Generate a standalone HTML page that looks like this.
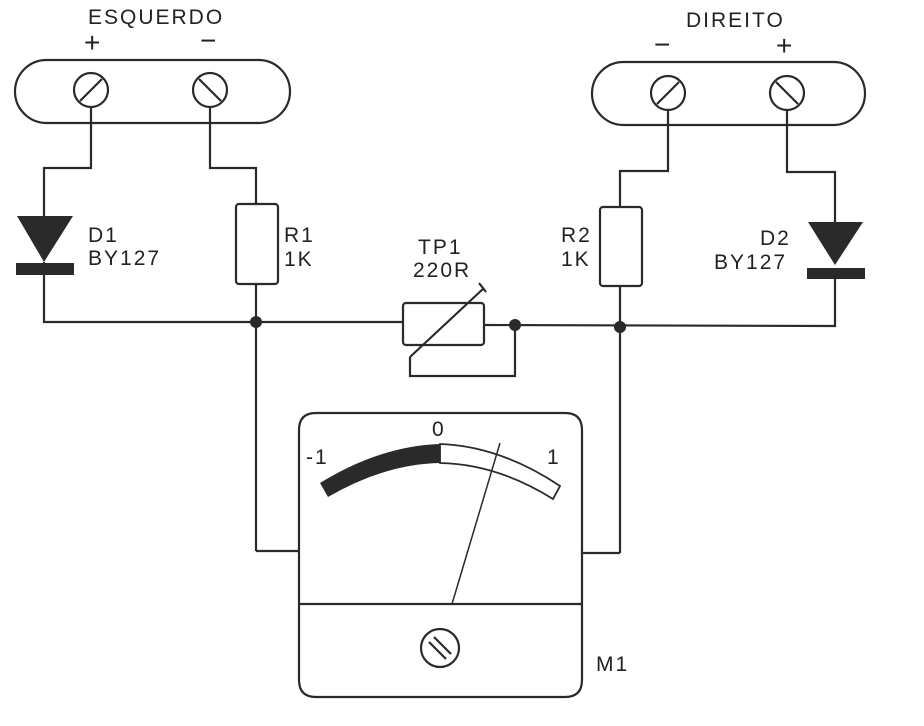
<!DOCTYPE html>
<html><head><style>
html,body{margin:0;padding:0;background:#fff;}
svg{display:block;}
text{font-family:"Liberation Sans",sans-serif;fill:#222;}
</style></head><body>
<svg width="924" height="726" viewBox="0 0 924 726" xmlns="http://www.w3.org/2000/svg">
<g stroke="#2a2a2a" stroke-width="2.2" fill="none">
<rect x="15" y="60" width="275" height="63" rx="31.5"/>
<circle cx="91" cy="90" r="17"/><line x1="80" y1="101" x2="102" y2="79"/>
<circle cx="210" cy="90" r="17"/><line x1="199" y1="79" x2="221" y2="101"/>
<rect x="592" y="62" width="273" height="63" rx="31.5"/>
<circle cx="668" cy="93" r="17"/><line x1="657" y1="104" x2="679" y2="82"/>
<circle cx="787" cy="93" r="17"/><line x1="776" y1="82" x2="798" y2="104"/>
<polyline points="91,107 91,168 44,168 44,216"/>
<polyline points="44,262 44,322 403,322"/>
<polyline points="210,107 210,168 256,168 256,204"/>
<rect x="236" y="204" width="42" height="80" rx="3"/>
<line x1="256" y1="284" x2="256" y2="551"/>
<polyline points="256,551 299,551"/>
<polyline points="668,110 668,171 620,171 620,207"/>
<rect x="600" y="207" width="42" height="79" rx="3"/>
<line x1="620" y1="286" x2="620" y2="553"/>
<polyline points="620,553 582,553"/>
<polyline points="787,110 787,172 835,172 835,222"/>
<polyline points="835,268 835,326 484,325"/>
<rect x="403" y="303" width="81" height="42" rx="3"/>
<line x1="410" y1="357" x2="484" y2="288"/>
<line x1="479" y1="283" x2="486" y2="292"/>
<polyline points="410,357 410,376 515,376 515,325"/>
<path d="M316,413 H565 Q582,413 582,430 V680 Q582,697 565,697 H316 Q299,697 299,680 V430 Q299,413 316,413 Z"/>
<line x1="299" y1="604" x2="582" y2="604"/>
<circle cx="440" cy="648" r="19"/>
<line x1="429" y1="642" x2="446" y2="659"/><line x1="434" y1="637" x2="451" y2="654"/>
<path d="M440,444 Q500,446 560,486 L553,499 Q497,464 440,463 Z" stroke-width="1.8"/>
<line x1="452" y1="604" x2="500" y2="443" stroke-width="1.5"/>
</g>
<g fill="#2a2a2a" stroke="none">
<polygon points="17,216 73,216 44,262"/>
<rect x="16" y="263" width="58" height="12"/>
<polygon points="808,222 863,222 835,265"/>
<rect x="807" y="268" width="58" height="11"/>
<circle cx="256" cy="322" r="6"/>
<circle cx="515" cy="325" r="6"/>
<circle cx="620" cy="327" r="6"/>
<path d="M440,444 Q380,446 320,483 L328,497 Q385,464 440,463 Z"/>
</g>
<g font-size="21" letter-spacing="2">
<text x="88" y="24">ESQUERDO</text>
<text x="686" y="27">DIREITO</text>
<text x="84" y="52" font-size="28">+</text>
<text x="200" y="50" font-size="28">−</text>
<text x="654" y="54" font-size="28">−</text>
<text x="776" y="55" font-size="28">+</text>
<text x="88" y="242">D1</text>
<text x="88" y="265">BY127</text>
<text x="284" y="242">R1</text>
<text x="284" y="266">1K</text>
<text x="418" y="254">TP1</text>
<text x="413" y="277">220R</text>
<text x="561" y="242">R2</text>
<text x="561" y="266">1K</text>
<text x="760" y="245">D2</text>
<text x="714" y="269">BY127</text>
<text x="432" y="436">0</text>
<text x="306" y="464">-1</text>
<text x="547" y="464">1</text>
<text x="596" y="671">M1</text>
</g>
</svg>
</body></html>
